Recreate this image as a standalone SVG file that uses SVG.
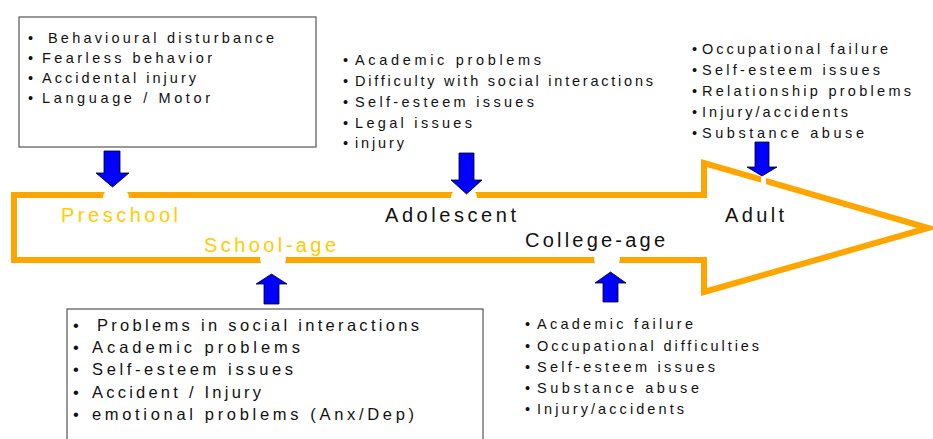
<svg xmlns="http://www.w3.org/2000/svg" width="933" height="439" viewBox="0 0 933 439">
<style>
.t{font-family:"Liberation Sans",Arial,sans-serif;font-size:14.5px;fill:#111}
.tb{font-family:"Liberation Sans",Arial,sans-serif;font-size:16.5px;fill:#111}
.lbl{font-family:"Liberation Sans",Arial,sans-serif;font-size:20px;fill:#111}
.gold{fill:#FFCC00}
.box{fill:#fff;stroke:#555;stroke-width:1.2}
.gap{fill:#fff;stroke:none}
.blue{fill:#0000FF;stroke:#000;stroke-width:0.8;stroke-linejoin:miter}
</style>
<rect width="933" height="439" fill="#fff"/>
<g id="timeline">
<polygon points="14,195 704,195 704,163 928,228 704,292 704,260 14,260" fill="none" stroke="#FFA500" stroke-width="6" stroke-linejoin="miter"/>
<rect class="gap" x="103" y="190" width="26" height="14" rx="7"/>
<rect class="gap" x="451" y="190" width="26" height="14" rx="7"/>
<rect class="gap" x="260" y="252" width="26" height="14" rx="7"/>
<rect class="gap" x="594" y="252" width="26" height="14" rx="7"/>
<polygon class="gap" points="761,174 766,174 766,190 761,190"/>
</g>
<g id="connectors">
<polygon class="blue" points="104,151 120,151 120,173 129,173 112.5,187 96,173 104,173"/>
<polygon class="blue" points="459,153 474,153 474,180 482,180 466.5,194 451,180 459,180"/>
<polygon class="blue" points="755,142 769,142 769,167 777,167 762,176 747,167 755,167"/>
<polygon class="blue" points="264,304 279,304 279,284 287,284 271.5,274 256,284 264,284"/>
<polygon class="blue" points="603,302 618,302 618,283 626,283 610.5,272 595,283 603,283"/>
</g>
<g id="stage-preschool"><text class="lbl gold" x="61" y="222" textLength="117" lengthAdjust="spacing">Preschool</text></g>
<g id="stage-schoolage"><text class="lbl gold" x="204" y="252" textLength="132" lengthAdjust="spacing">School-age</text></g>
<g id="stage-adolescent"><text class="lbl" x="385" y="222" textLength="131" lengthAdjust="spacing">Adolescent</text></g>
<g id="stage-collegeage"><text class="lbl" x="525" y="247" textLength="140" lengthAdjust="spacing">College-age</text></g>
<g id="stage-adult"><text class="lbl" x="725" y="222" textLength="59" lengthAdjust="spacing">Adult</text></g>
<g id="list-preschool">
<rect class="box" x="19" y="17" width="297" height="130"/>
<text class="t" x="28" y="43">•</text><text class="t" x="48" y="43" textLength="226" lengthAdjust="spacing">Behavioural disturbance</text>
<text class="t" x="28" y="63">•</text><text class="t" x="42" y="63" textLength="170" lengthAdjust="spacing">Fearless behavior</text>
<text class="t" x="28" y="83">•</text><text class="t" x="42" y="83" textLength="154" lengthAdjust="spacing">Accidental injury</text>
<text class="t" x="28" y="103">•</text><text class="t" x="42" y="103" textLength="168" lengthAdjust="spacing">Language / Motor</text>
</g>
<g id="list-adolescent">
<text class="t" x="343" y="65">•</text><text class="t" x="355" y="65" textLength="186" lengthAdjust="spacing">Academic problems</text>
<text class="t" x="343" y="86">•</text><text class="t" x="355" y="86" textLength="298" lengthAdjust="spacing">Difficulty with social interactions</text>
<text class="t" x="343" y="107">•</text><text class="t" x="355" y="107" textLength="179" lengthAdjust="spacing">Self-esteem issues</text>
<text class="t" x="343" y="128">•</text><text class="t" x="355" y="128" textLength="117" lengthAdjust="spacing">Legal issues</text>
<text class="t" x="343" y="148">•</text><text class="t" x="355" y="148" textLength="49" lengthAdjust="spacing">injury</text>
</g>
<g id="list-adult">
<text class="t" x="692" y="54">•</text><text class="t" x="702" y="54" textLength="186" lengthAdjust="spacing">Occupational failure</text>
<text class="t" x="692" y="75">•</text><text class="t" x="702" y="75" textLength="178" lengthAdjust="spacing">Self-esteem issues</text>
<text class="t" x="692" y="96">•</text><text class="t" x="702" y="96" textLength="209" lengthAdjust="spacing">Relationship problems</text>
<text class="t" x="692" y="117">•</text><text class="t" x="702" y="117" textLength="146" lengthAdjust="spacing">Injury/accidents</text>
<text class="t" x="692" y="138">•</text><text class="t" x="702" y="138" textLength="162" lengthAdjust="spacing">Substance abuse</text>
</g>
<g id="list-schoolage">
<rect class="box" x="67" y="309" width="416" height="140"/>
<text class="tb" x="73" y="331">•</text><text class="tb" x="97" y="331" textLength="322" lengthAdjust="spacing">Problems in social interactions</text>
<text class="tb" x="73" y="353">•</text><text class="tb" x="92" y="353" textLength="208" lengthAdjust="spacing">Academic problems</text>
<text class="tb" x="73" y="375">•</text><text class="tb" x="92" y="375" textLength="201" lengthAdjust="spacing">Self-esteem issues</text>
<text class="tb" x="73" y="398">•</text><text class="tb" x="92" y="398" textLength="169" lengthAdjust="spacing">Accident / Injury</text>
<text class="tb" x="73" y="420">•</text><text class="tb" x="92" y="420" textLength="322" lengthAdjust="spacing">emotional problems (Anx/Dep)</text>
</g>
<g id="list-collegeage">
<text class="t" x="525" y="329">•</text><text class="t" x="537" y="329" textLength="156" lengthAdjust="spacing">Academic failure</text>
<text class="t" x="525" y="351">•</text><text class="t" x="537" y="351" textLength="222" lengthAdjust="spacing">Occupational difficulties</text>
<text class="t" x="525" y="372">•</text><text class="t" x="537" y="372" textLength="178" lengthAdjust="spacing">Self-esteem issues</text>
<text class="t" x="525" y="393">•</text><text class="t" x="537" y="393" textLength="162" lengthAdjust="spacing">Substance abuse</text>
<text class="t" x="525" y="414">•</text><text class="t" x="537" y="414" textLength="147" lengthAdjust="spacing">Injury/accidents</text>
</g>
</svg>
